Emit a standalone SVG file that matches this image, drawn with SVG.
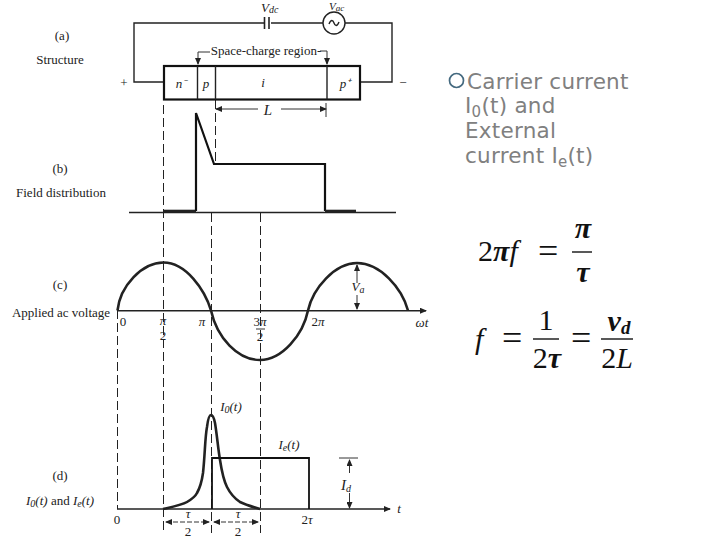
<svg xmlns="http://www.w3.org/2000/svg" width="720" height="540" viewBox="0 0 720 540">
<style>
.w{fill:none;stroke:#222;stroke-width:1.4}
.t{fill:none;stroke:#111;stroke-width:2.2}
.m{fill:none;stroke:#222;stroke-width:2.6}
.d{fill:none;stroke:#222;stroke-width:1;stroke-dasharray:9 4}
.h{fill:none;stroke:#333;stroke-width:1}
.s{font-family:"Liberation Serif",serif;font-size:13px;fill:#222}
.l{font-family:"Liberation Serif",serif;font-size:13px;fill:#222}
.i{font-family:"Liberation Serif",serif;font-size:13px;font-style:italic;fill:#222}
.b{font-family:"DejaVu Sans",sans-serif;font-size:21.500px;letter-spacing:.25px;fill:#808080}
.e{font-family:"Liberation Serif",serif;font-size:30px;fill:#111}
.q{font-family:"Liberation Serif",serif;font-size:36px;fill:#111}
.ei{font-family:"Liberation Serif",serif;font-size:30px;font-style:italic;fill:#111}
</style>
<defs>
<marker id="a" markerWidth="7" markerHeight="6" refX="6" refY="3" orient="auto-start-reverse" markerUnits="userSpaceOnUse"><path d="M0 0L7 3L0 6Z" fill="#222"/></marker>
</defs>
<rect width="720" height="540" fill="#fff"/>
<g id="connectors">
<path class="w" d="M164 82H134V23H264M271 23H323M345 23H392V82H360"/>
<path class="w" d="M264.500 17V29M269 17V29" style="stroke-width:1.6"/>
<path class="h" d="M198 52H210M320 51H327"/>
<path class="h" d="M198 52V64" marker-end="url(#a)"/>
<path class="h" d="M327 51V64" marker-end="url(#a)"/>
<path class="h" d="M216 109H258" marker-start="url(#a)"/>
<path class="h" d="M281 109H326" marker-end="url(#a)"/>
<path class="h" d="M326 103V117"/>
<path class="d" d="M163.500 105V533M117.500 310V509M215.500 100V164M211.500 213V533M260.500 213V533"/>
<path class="w" d="M129 212.500H396"/>
<path class="m" d="M164 211H196"/>
<path class="t" d="M196 211V113L214 164H325V211"/>
<path class="m" d="M325 211H356"/>
<path class="w" d="M117 310.700H426" marker-end="url(#a)"/>
<path class="m" d="M117.500 310.500C120 286 142 262.500 163.500 262.500C186 262.500 205 290 211 310.500C217 338 238 360 260 360C282 360 303 335 308 310.500C313 288 335 263 357 263C380 263 402 288 408 310.500"/>
<path class="h" d="M357 283V265" marker-end="url(#a)"/>
<path class="h" d="M357 295V309" marker-end="url(#a)"/>
<path class="w" d="M117 509H390" marker-end="url(#a)"/>
<path class="m" d="M163 509C172 507 182 505 187 502C192 499 195 497 197 493C201 486 202 480 203 473C205 455 205 437 207 427C208 419 209 415 211 415C213 415 214 418 215 423C217 435 218 448 220 460C222 473 224 481 227 487C230 493 234 498 240 502C246 505 253 507 260 509"/>
<path class="t" d="M212 509V458H309V509" style="stroke-width:1.800"/>
<path class="h" d="M339 458H358"/>
<path class="h" d="M349.500 473V460" marker-end="url(#a)"/>
<path class="h" d="M349.500 493V508" marker-end="url(#a)"/>
<path class="h" d="M166 522H209" marker-start="url(#a)" marker-end="url(#a)" stroke-dasharray="5 2"/>
<path class="h" d="M214 522H258" marker-start="url(#a)" marker-end="url(#a)" stroke-dasharray="5 2"/>
<path class="h" d="M256 329H265"/>
</g>
<g id="source"><circle cx="334" cy="23" r="11" fill="#fff" stroke="#222" stroke-width="1.4"/><path class="w" d="M329 24C331 19 333 20 334 23C335 26 337 27 339 22"/></g>
<g id="device">
<rect x="164" y="66" width="196" height="33.500" fill="#fff" stroke="#111" stroke-width="2.200"/>
<path class="w" d="M197.500 66V99.500M215.500 66V99.500M327 66V99.500"/>
<text class="i" x="181" y="88" text-anchor="middle" font-size="14">n⁻</text>
<text class="i" x="206" y="88" text-anchor="middle">p</text>
<text class="i" x="263" y="87" text-anchor="middle">i</text>
<text class="i" x="345" y="88" text-anchor="middle" font-size="14">p⁺</text>
</g>
<g id="labels">
<text class="i" x="261" y="12">V<tspan font-size="10" dy="1">dc</tspan></text>
<text class="i" x="329" y="10" style="font-size:11px">V<tspan font-size="9" dy="1">ac</tspan></text>
<text class="s" x="62" y="40" text-anchor="middle">(a)</text>
<text class="s" x="60" y="64" text-anchor="middle">Structure</text>
<text class="l" x="124" y="87" text-anchor="middle">+</text>
<text class="l" x="403" y="87" text-anchor="middle">−</text>
<text class="s" x="266" y="55" text-anchor="middle">Space-charge region-</text>
<text class="i" x="268" y="115" text-anchor="middle" style="font-size:15px">L</text>
<text class="s" x="60" y="173" text-anchor="middle">(b)</text>
<text class="s" x="61" y="197" text-anchor="middle">Field distribution</text>
<text class="s" x="60" y="289" text-anchor="middle">(c)</text>
<text class="s" x="61" y="317" text-anchor="middle">Applied ac voltage</text>
<text class="l" x="123" y="326" text-anchor="middle">0</text>
<text class="i" x="163" y="325" text-anchor="middle">π</text>
<text class="l" x="163" y="340" text-anchor="middle">2</text>
<text class="i" x="202" y="326" text-anchor="middle">π</text>
<text class="l" x="260" y="326" text-anchor="middle">3<tspan font-style="italic">π</tspan></text>
<text class="l" x="260" y="341" text-anchor="middle">2</text>
<text class="l" x="318" y="326" text-anchor="middle">2<tspan font-style="italic">π</tspan></text>
<text class="i" x="358" y="291" text-anchor="middle">V<tspan font-size="10" dy="2">a</tspan></text>
<text class="i" x="422" y="327" text-anchor="middle">ωt</text>
<text class="i" x="231" y="411" text-anchor="middle">I<tspan font-size="10" dy="2">0</tspan><tspan dy="-2">(t)</tspan></text>
<text class="i" x="289" y="449" text-anchor="middle">I<tspan font-size="10" dy="2">e</tspan><tspan dy="-2">(t)</tspan></text>
<text class="s" x="60" y="480" text-anchor="middle">(d)</text>
<text class="i" x="60" y="505" text-anchor="middle">I<tspan font-size="10" dy="2">0</tspan><tspan dy="-2">(t) </tspan><tspan font-style="normal">and </tspan>I<tspan font-size="10" dy="2">e</tspan><tspan dy="-2">(t)</tspan></text>
<text class="i" x="346" y="490" text-anchor="middle" style="font-size:15px">I<tspan font-size="10" dy="2">d</tspan></text>
<text class="i" x="399" y="513" text-anchor="middle">t</text>
<text class="l" x="117" y="524" text-anchor="middle">0</text>
<text class="l" x="307" y="524" text-anchor="middle">2<tspan font-style="italic">τ</tspan></text>
<text class="i" x="188" y="518" text-anchor="middle">τ</text>
<text class="i" x="238" y="518" text-anchor="middle">τ</text>
<text class="l" x="188" y="536" text-anchor="middle">2</text>
<text class="l" x="238" y="536" text-anchor="middle">2</text>
</g>
<g id="bullet-text">
<circle cx="456.500" cy="80.500" r="7" fill="none" stroke="#44697f" stroke-width="1.700"/>
<text class="b" x="467" y="89">Carrier current</text>
<text class="b" x="465" y="113">I<tspan font-size="15" dy="4">0</tspan><tspan dy="-4">(t) and</tspan></text>
<text class="b" x="465" y="138">External</text>
<text class="b" x="465" y="163">current I<tspan font-size="15" dy="4">e</tspan><tspan dy="-4">(t)</tspan></text>
</g>
<g id="equations">
<text class="e" x="478" y="261">2<tspan font-style="italic" font-weight="bold">π</tspan><tspan font-style="italic">f</tspan></text>
<text class="q" x="538" y="263">=</text>
<path d="M572 252H592" stroke="#222" stroke-width="1.500"/>
<text class="ei" x="583" y="238" text-anchor="middle" font-weight="bold">π</text>
<text class="ei" x="583" y="282" text-anchor="middle" font-weight="bold">τ</text>
<text class="ei" x="475" y="349">f</text>
<text class="q" x="502" y="350">=</text>
<path d="M533 339H559" stroke="#222" stroke-width="1.500"/>
<text class="e" x="546" y="330" text-anchor="middle">1</text>
<text class="e" x="547" y="368" text-anchor="middle">2<tspan font-style="italic" font-weight="bold">τ</tspan></text>
<text class="q" x="571" y="350">=</text>
<path d="M601 339H633" stroke="#222" stroke-width="1.500"/>
<text class="ei" x="619" y="331" text-anchor="middle" font-weight="bold">v<tspan font-size="19" dy="3">d</tspan></text>
<text class="e" x="617" y="368" text-anchor="middle">2<tspan font-style="italic">L</tspan></text>
</g>
</svg>
